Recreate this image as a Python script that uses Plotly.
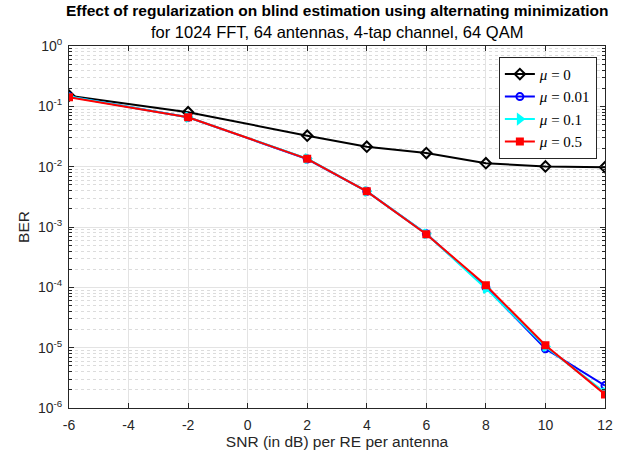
import plotly.graph_objects as go

snr = [-6, -2, 2, 4, 6, 8, 10, 12]
ber_mu0 = [0.150, 0.080, 0.0326, 0.0214, 0.0168, 0.0114, 0.0101, 0.0098]
ber_mu001 = [0.145, 0.066, 0.0134, 0.0039, 7.7e-4, 1.0e-4, 9.6e-6, 2.35e-6]
ber_mu01 = [0.145, 0.066, 0.0136, 0.0039, 7.7e-4, 9.6e-5, 1.05e-5, 1.8e-6]
ber_mu05 = [0.142, 0.066, 0.0135, 0.0039, 7.6e-4, 1.08e-4, 1.1e-5, 1.68e-6]

names = ["<i>μ</i> = 0", "<i>μ</i> = 0.01", "<i>μ</i> = 0.1", "<i>μ</i> = 0.5"]
colors = ["#000000", "#0000ff", "#00ffff", "#ff0000"]
symbols = ["diamond-open", "circle-open", "triangle-right", "square"]
sizes = [8, 7, 8, 6]

xticks = [-6, -4, -2, 0, 2, 4, 6, 8, 10, 12]
xtick_text = ["-6", "-4", "-2", "0", "2", "4", "6", "8", "10", "12"]
ytick_vals = [1e-6, 1e-5, 1e-4, 1e-3, 1e-2, 1e-1, 1]
ytick_text = ["10<sup>-6</sup>", "10<sup>-5</sup>", "10<sup>-4</sup>", "10<sup>-3</sup>",
              "10<sup>-2</sup>", "10<sup>-1</sup>", "10<sup>0</sup>"]

fig = go.Figure()
for ys, nm, c, s, sz in zip([ber_mu0, ber_mu001, ber_mu01, ber_mu05], names, colors, symbols, sizes):
    fig.add_trace(go.Scatter(
        x=snr, y=ys, name=nm, mode="lines+markers",
        line=dict(color=c, width=2),
        marker=dict(symbol=s, size=sz, color=c, line=dict(color=c, width=2)),
    ))

fig.update_layout(
    width=635, height=455,
    margin=dict(l=69, r=30, t=46, b=47),
    paper_bgcolor="white", plot_bgcolor="white",
    font=dict(family="Liberation Sans, Arial, sans-serif", size=14, color="#262626"),
    showlegend=True,
    legend=dict(
        x=0.802, y=0.97, xanchor="left", yanchor="top",
        bgcolor="white", bordercolor="#262626", borderwidth=1,
        font=dict(family="Liberation Serif, DejaVu Serif, serif", size=15, color="#000000"),
        tracegroupgap=0, itemwidth=30,
    ),
    annotations=[
        dict(text="<b>Effect of regularization on blind estimation using alternating minimization</b>",
             x=0.5, y=1, xref="paper", yref="paper", xanchor="center", yanchor="middle",
             yshift=36, showarrow=False, font=dict(size=15.5, color="#000000")),
        dict(text="for 1024 FFT, 64 antennas, 4-tap channel, 64 QAM",
             x=0.5, y=1, xref="paper", yref="paper", xanchor="center", yanchor="middle",
             yshift=14, showarrow=False, font=dict(size=16.5, color="#000000")),
    ],
)

fig.update_xaxes(
    range=[-6, 12], tickvals=xticks, ticktext=xtick_text, automargin=False,
    showline=True, linecolor="#262626", linewidth=1, mirror="ticks",
    ticks="inside", ticklen=5, tickcolor="#262626",
    showgrid=True, gridcolor="#e3e3e3", gridwidth=1, zeroline=False,
    tickfont=dict(size=14), ticklabelstandoff=4,
    title=dict(text="SNR (in dB) per RE per antenna", standoff=3, font=dict(size=15.5)),
)
fig.update_yaxes(
    type="log", range=[-6, 0], tickvals=ytick_vals, ticktext=ytick_text, automargin=False,
    showline=True, linecolor="#262626", linewidth=1, mirror="ticks",
    ticks="inside", ticklen=5, tickcolor="#262626",
    showgrid=True, gridcolor="#e3e3e3", gridwidth=1, zeroline=False,
    tickfont=dict(size=14), ticklabelstandoff=3,
    minor=dict(dtick="D1", ticks="inside", ticklen=3, tickcolor="#262626", showgrid=True,
               gridcolor="#dcdcdc", griddash="dot", gridwidth=1),
    title=dict(text="BER", standoff=4, font=dict(size=15.5)),
)

fig.write_html("out.html", config={"displayModeBar": False},
               post_script="document.body.style.margin='0';")
